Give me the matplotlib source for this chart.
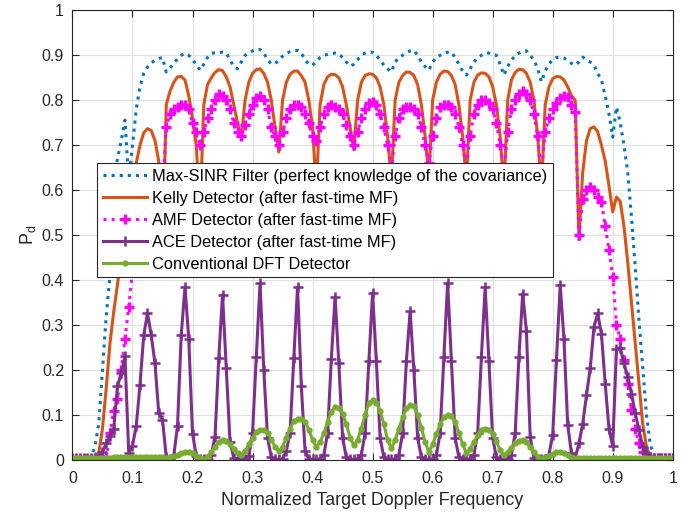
import numpy as np
import matplotlib
matplotlib.use("Agg")
import matplotlib.pyplot as plt

plt.rcParams['font.family'] = ['Liberation Sans', 'DejaVu Sans']
plt.rcParams['mathtext.fontset'] = 'custom'
plt.rcParams['mathtext.rm'] = 'Liberation Sans'

# Doppler grid (normalized frequency, 161 points)
freq = np.arange(161) / 160

max_sinr = [
    0.002, 0.002, 0.002, 0.002, 0.003, 0.008, 0.03, 0.08, 0.2, 0.32,
    0.41, 0.63, 0.67, 0.71, 0.756, 0.62, 0.70, 0.78, 0.83, 0.86,
    0.874, 0.883, 0.889, 0.893, 0.895, 0.863, 0.872, 0.881, 0.893, 0.90,
    0.904, 0.90, 0.89, 0.88, 0.867, 0.88, 0.895, 0.904, 0.906, 0.906,
    0.907, 0.905, 0.89, 0.875, 0.87, 0.885, 0.9, 0.905, 0.91, 0.913,
    0.913, 0.905, 0.89, 0.881, 0.881, 0.89, 0.898, 0.904, 0.908, 0.91,
    0.911, 0.905, 0.89, 0.88, 0.878, 0.886, 0.895, 0.90, 0.902, 0.904,
    0.905, 0.903, 0.895, 0.885, 0.876, 0.88, 0.89, 0.90, 0.905, 0.907,
    0.907, 0.90, 0.89, 0.878, 0.87, 0.863, 0.885, 0.895, 0.90, 0.905,
    0.91, 0.911, 0.90, 0.885, 0.875, 0.867, 0.885, 0.896, 0.90, 0.905,
    0.907, 0.907, 0.895, 0.88, 0.865, 0.856, 0.87, 0.885, 0.895, 0.90,
    0.905, 0.905, 0.902, 0.90, 0.88, 0.856, 0.875, 0.889, 0.90, 0.905,
    0.909, 0.91, 0.90, 0.89, 0.87, 0.841, 0.865, 0.881, 0.89, 0.895,
    0.896, 0.894, 0.888, 0.882, 0.878, 0.885, 0.896, 0.89, 0.885, 0.878,
    0.86, 0.845, 0.81, 0.77, 0.718, 0.785, 0.75, 0.70, 0.64, 0.54,
    0.43, 0.311, 0.207, 0.10, 0.035, 0.01, 0.004, 0.003, 0.002, 0.002,
    0.002,
]

kelly = [
    0.002, 0.002, 0.002, 0.002, 0.002, 0.002, 0.004, 0.015, 0.07, 0.16,
    0.26, 0.33, 0.39, 0.46, 0.50, 0.45, 0.58, 0.66, 0.70, 0.728,
    0.737, 0.733, 0.71, 0.665, 0.45, 0.79, 0.82, 0.84, 0.852, 0.853,
    0.845, 0.81, 0.76, 0.70, 0.55, 0.79, 0.835, 0.85, 0.862, 0.868,
    0.866, 0.852, 0.83, 0.79, 0.75, 0.715, 0.80, 0.84, 0.86, 0.868,
    0.870, 0.86, 0.84, 0.80, 0.74, 0.685, 0.80, 0.84, 0.858, 0.865,
    0.865, 0.855, 0.84, 0.80, 0.74, 0.60, 0.79, 0.835, 0.852, 0.858,
    0.857, 0.85, 0.83, 0.79, 0.74, 0.69, 0.80, 0.84, 0.855, 0.859,
    0.858, 0.85, 0.83, 0.79, 0.72, 0.62, 0.80, 0.84, 0.855, 0.863,
    0.862, 0.855, 0.835, 0.79, 0.72, 0.63, 0.80, 0.84, 0.858, 0.865,
    0.864, 0.855, 0.835, 0.79, 0.72, 0.62, 0.80, 0.84, 0.856, 0.861,
    0.86, 0.852, 0.83, 0.79, 0.72, 0.60, 0.80, 0.845, 0.862, 0.869,
    0.868, 0.86, 0.84, 0.80, 0.72, 0.60, 0.79, 0.83, 0.848, 0.853,
    0.852, 0.845, 0.83, 0.81, 0.80, 0.49, 0.64, 0.71, 0.737, 0.741,
    0.73, 0.70, 0.665, 0.61, 0.552, 0.585, 0.575, 0.52, 0.44, 0.35,
    0.26, 0.17, 0.08, 0.03, 0.008, 0.003, 0.002, 0.002, 0.002, 0.002,
    0.002,
]

amf = [
    0.003, 0.003, 0.003, 0.003, 0.003, 0.003, 0.003, 0.003, 0.004, 0.006,
    0.06, 0.11, 0.135, 0.20, 0.27, 0.34, 0.42, 0.50, 0.54, 0.57,
    0.59, 0.60, 0.61, 0.62, 0.60, 0.74, 0.77, 0.78, 0.785, 0.79,
    0.79, 0.78, 0.75, 0.73, 0.70, 0.73, 0.76, 0.78, 0.80, 0.815,
    0.81, 0.80, 0.78, 0.75, 0.73, 0.72, 0.745, 0.77, 0.79, 0.805,
    0.81, 0.80, 0.78, 0.74, 0.72, 0.70, 0.73, 0.76, 0.78, 0.79,
    0.79, 0.785, 0.77, 0.75, 0.72, 0.71, 0.74, 0.77, 0.785, 0.79,
    0.785, 0.78, 0.77, 0.745, 0.72, 0.70, 0.73, 0.76, 0.78, 0.795,
    0.796, 0.79, 0.77, 0.74, 0.70, 0.65, 0.72, 0.76, 0.78, 0.785,
    0.785, 0.78, 0.77, 0.74, 0.70, 0.66, 0.72, 0.76, 0.785, 0.79,
    0.79, 0.785, 0.77, 0.74, 0.70, 0.65, 0.72, 0.77, 0.79, 0.80,
    0.80, 0.795, 0.78, 0.75, 0.70, 0.64, 0.73, 0.78, 0.80, 0.815,
    0.82, 0.815, 0.80, 0.77, 0.72, 0.64, 0.73, 0.76, 0.78, 0.795,
    0.805, 0.81, 0.807, 0.79, 0.775, 0.50, 0.58, 0.60, 0.607, 0.60,
    0.585, 0.575, 0.52, 0.467, 0.407, 0.30, 0.27, 0.222, 0.17, 0.111,
    0.07, 0.037, 0.018, 0.008, 0.005, 0.004, 0.004, 0.004, 0.004, 0.004,
    0.004,
]

ace = [
    0.004, 0.004, 0.004, 0.004, 0.005, 0.005, 0.007, 0.009, 0.018, 0.037,
    0.053, 0.07, 0.164, 0.193, 0.231, 0.016, 0.032, 0.076, 0.167, 0.278,
    0.326, 0.278, 0.215, 0.104, 0.09, 0.007, 0.003, 0.01, 0.076, 0.279,
    0.385, 0.27, 0.059, 0.01, 0.002, 0.002, 0.003, 0.012, 0.052, 0.227,
    0.368, 0.205, 0.04, 0.005, 0.002, 0.002, 0.003, 0.01, 0.06, 0.23,
    0.393, 0.2, 0.05, 0.006, 0.002, 0.002, 0.003, 0.02, 0.06, 0.227,
    0.385, 0.165, 0.02, 0.003, 0.002, 0.002, 0.003, 0.012, 0.06, 0.225,
    0.363, 0.215, 0.05, 0.006, 0.002, 0.002, 0.003, 0.012, 0.06, 0.22,
    0.372, 0.22, 0.05, 0.006, 0.002, 0.002, 0.003, 0.012, 0.06, 0.22,
    0.331, 0.2, 0.05, 0.006, 0.002, 0.002, 0.003, 0.012, 0.06, 0.23,
    0.394, 0.22, 0.05, 0.006, 0.002, 0.002, 0.003, 0.012, 0.06, 0.23,
    0.384, 0.22, 0.05, 0.006, 0.002, 0.002, 0.003, 0.012, 0.06, 0.23,
    0.370, 0.287, 0.052, 0.005, 0.002, 0.002, 0.003, 0.012, 0.056, 0.222,
    0.389, 0.269, 0.079, 0.015, 0.005, 0.037, 0.081, 0.144, 0.204, 0.296,
    0.326, 0.28, 0.17, 0.07, 0.031, 0.248, 0.25, 0.215, 0.185, 0.148,
    0.104, 0.067, 0.03, 0.015, 0.008, 0.005, 0.004, 0.004, 0.004, 0.004,
    0.004,
]

dft = [
    0.005, 0.005, 0.005, 0.005, 0.005, 0.005, 0.005, 0.005, 0.005, 0.005,
    0.005, 0.006, 0.006, 0.006, 0.006, 0.006, 0.006, 0.006, 0.006, 0.006,
    0.007, 0.007, 0.007, 0.007, 0.007, 0.004, 0.006, 0.009, 0.012, 0.015,
    0.017, 0.018, 0.015, 0.009, 0.004, 0.003, 0.008, 0.018, 0.03, 0.04,
    0.044, 0.042, 0.035, 0.025, 0.015, 0.012, 0.02, 0.035, 0.05, 0.062,
    0.066, 0.066, 0.06, 0.045, 0.03, 0.021, 0.03, 0.05, 0.07, 0.087,
    0.091, 0.092, 0.085, 0.068, 0.045, 0.03, 0.04, 0.06, 0.085, 0.108,
    0.118, 0.116, 0.103, 0.08, 0.05, 0.033, 0.045, 0.07, 0.10, 0.127,
    0.133, 0.128, 0.11, 0.08, 0.045, 0.026, 0.045, 0.07, 0.095, 0.115,
    0.122, 0.12, 0.10, 0.072, 0.04, 0.018, 0.035, 0.058, 0.08, 0.095,
    0.10, 0.098, 0.085, 0.06, 0.035, 0.015, 0.025, 0.04, 0.055, 0.066,
    0.07, 0.068, 0.058, 0.042, 0.022, 0.011, 0.018, 0.027, 0.037, 0.043,
    0.045, 0.04, 0.03, 0.018, 0.008, 0.002, 0.006, 0.01, 0.014, 0.017,
    0.018, 0.016, 0.012, 0.008, 0.005, 0.004, 0.005, 0.005, 0.005, 0.005,
    0.005, 0.005, 0.005, 0.005, 0.005, 0.005, 0.005, 0.005, 0.005, 0.005,
    0.005, 0.005, 0.005, 0.005, 0.005, 0.005, 0.005, 0.005, 0.005, 0.005,
    0.005,
]

labels = [
    'Max-SINR Filter (perfect knowledge of the covariance)',
    'Kelly Detector (after fast-time MF)',
    'AMF Detector (after fast-time MF)',
    'ACE Detector (after fast-time MF)',
    'Conventional DFT Detector',
]

c_blue = '#0072BD'
c_orange = '#D95319'
c_magenta = '#FF00FF'
c_purple = '#7E2F8E'
c_green = '#77AC30'
c_axis = '#262626'

fig = plt.figure(figsize=(6.9, 5.17), dpi=100)
ax = fig.add_axes([0.105, 0.110, 0.870, 0.870])

ax.plot(freq, max_sinr, linestyle=':', color=c_blue, lw=2.2, label=labels[0])
ax.plot(freq, kelly, linestyle='-', color=c_orange, lw=2.2, label=labels[1])
ax.plot(freq, amf, linestyle=':', color=c_magenta, lw=2.2, marker='+',
        ms=6.5, mew=2.4, label=labels[2])
ax.plot(freq, ace, linestyle='-', color=c_purple, lw=2.2, marker='+',
        ms=6.5, mew=1.8, label=labels[3])
ax.plot(freq, dft, linestyle='-', color=c_green, lw=2.2, marker='.',
        ms=7, label=labels[4])

ax.set_xlim(0, 1)
ax.set_ylim(0, 1)
ax.set_xticks(np.arange(0, 1.01, 0.1))
ax.set_yticks(np.arange(0, 1.01, 0.1))
ax.set_xticklabels(['0', '0.1', '0.2', '0.3', '0.4', '0.5', '0.6', '0.7',
                    '0.8', '0.9', '1'])
ax.set_yticklabels(['0', '0.1', '0.2', '0.3', '0.4', '0.5', '0.6', '0.7',
                    '0.8', '0.9', '1'])
ax.grid(True, color='#dfdfdf', lw=0.8)
ax.set_axisbelow(True)
ax.tick_params(direction='in', top=True, right=True, length=5,
               width=0.8, colors=c_axis, labelsize=11.5)
ax.tick_params(axis='x', pad=8)
ax.tick_params(axis='y', pad=6)
for s in ax.spines.values():
    s.set_color(c_axis)
    s.set_linewidth(0.8)

ax.set_xlabel('Normalized Target Doppler Frequency', fontsize=12.9,
              color=c_axis, labelpad=4)
ax.set_ylabel(r'P$_\mathregular{d}$', fontsize=12.9, color=c_axis, labelpad=3)

leg = ax.legend(loc='upper left', bbox_to_anchor=(0.041, 0.66),
                fontsize=11.8, frameon=True, fancybox=False, framealpha=1,
                edgecolor=c_axis, borderaxespad=0, handlelength=2.7,
                labelspacing=0.42, borderpad=0.35, handletextpad=0.3)
leg.get_frame().set_linewidth(0.8)

fig.savefig('out.png', dpi=100)
